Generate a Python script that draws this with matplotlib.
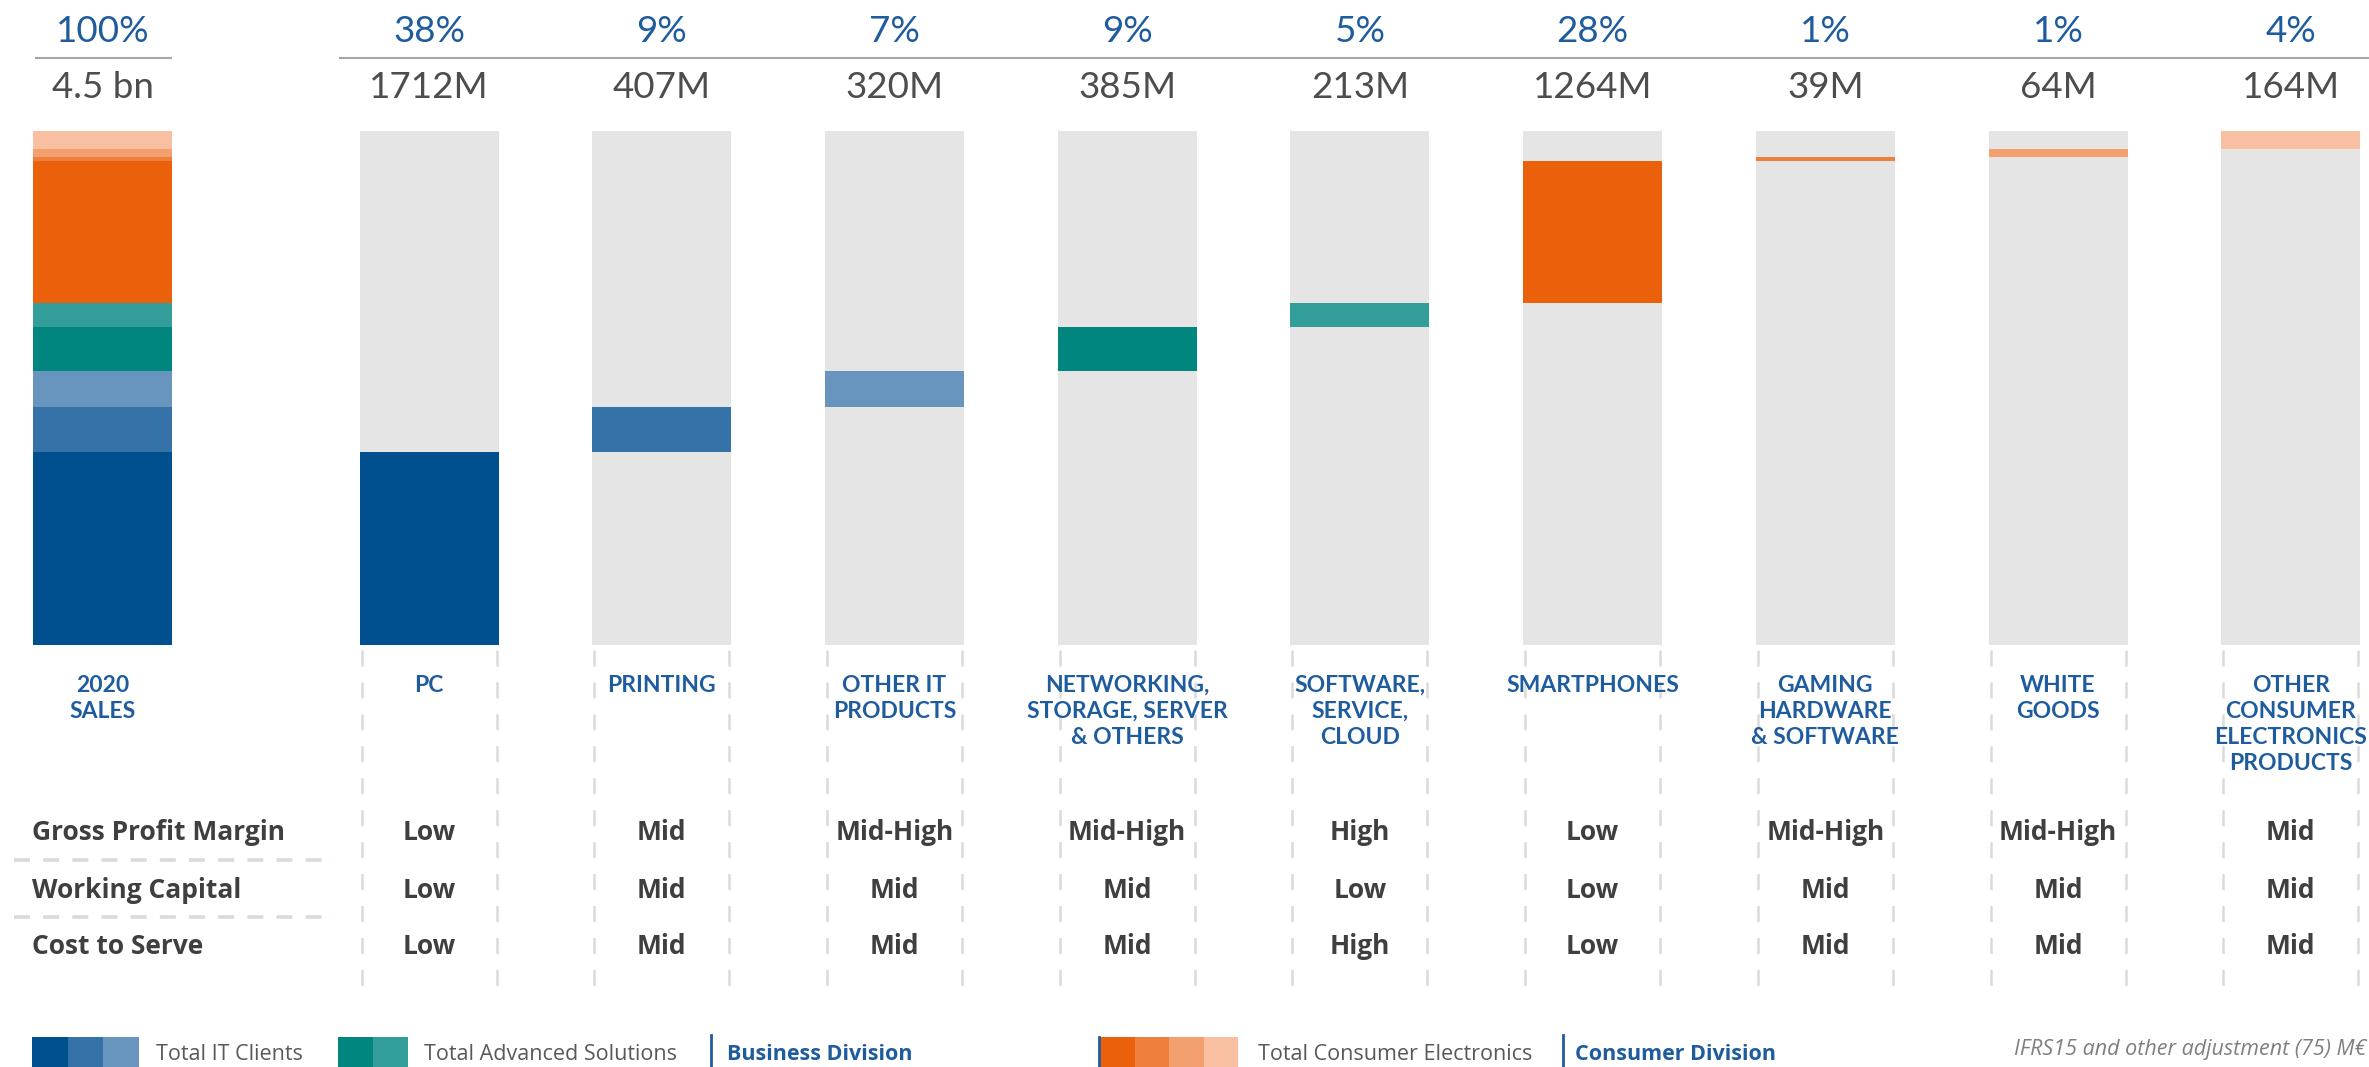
import matplotlib
matplotlib.use("Agg")
import matplotlib.pyplot as plt
import numpy as np

# ---------------- data ----------------
categories = ["PC", "PRINTING", "OTHER IT\nPRODUCTS", "NETWORKING,\nSTORAGE, SERVER\n& OTHERS",
              "SOFTWARE,\nSERVICE,\nCLOUD", "SMARTPHONES", "GAMING\nHARDWARE\n& SOFTWARE",
              "WHITE\nGOODS", "OTHER\nCONSUMER\nELECTRONICS\nPRODUCTS"]
sales_m = [1712, 407, 320, 385, 213, 1264, 39, 64, 164]
share_labels = ["38%", "9%", "7%", "9%", "5%", "28%", "1%", "1%", "4%"]
amount_labels = ["1712M", "407M", "320M", "385M", "213M", "1264M", "39M", "64M", "164M"]
total_category = "2020\nSALES"
total_share_label = "100%"
total_amount_label = "4.5 bn"

metric_names = ["Gross Profit Margin", "Working Capital", "Cost to Serve"]
gross_profit_margin = ["Low", "Mid", "Mid-High", "Mid-High", "High", "Low", "Mid-High", "Mid-High", "Mid"]
working_capital = ["Low", "Mid", "Mid", "Mid", "Low", "Low", "Mid", "Mid", "Mid"]
cost_to_serve = ["Low", "Mid", "Mid", "Mid", "High", "Low", "Mid", "Mid", "Mid"]

legend_it = "Total IT Clients"
legend_as = "Total Advanced Solutions"
legend_bd = "Business Division"
legend_ce = "Total Consumer Electronics"
legend_cd = "Consumer Division"
footnote = "IFRS15 and other adjustment (75) M€"

# ---------------- styles ----------------
seg_colors = ["#00508F", "#3572A8", "#6795BD", "#00857F", "#339E99",
              "#EB600A", "#EF7F3D", "#F3A06E", "#F8C0A0"]
bg_gray = "#E5E5E5"
blue_txt = "#1F5C9E"
gray_txt = "#4D4D4D"
dark_txt = "#3F3F3F"
line_gray = "#DADADA"

W, H = 2369, 1067
fig = plt.figure(figsize=(W / 100, H / 100), dpi=100)

# layout (pixels)
col_start, col_step, bar_px = 429.1, 232.7, 139.0
total_center_px = 103.0
bar_top_px, bar_bot_px = 131.0, 645.0

def px_of(p):
    return col_start + (p - 1) * col_step

positions = np.arange(1, len(sales_m) + 1)
total_pos = 1 + (total_center_px - col_start) / col_step
bw = bar_px / col_step

total = float(np.sum(sales_m))
bottoms = np.concatenate([[0], np.cumsum(sales_m)[:-1]])

ax = fig.add_axes([0, 1 - bar_bot_px / H, 1, (bar_bot_px - bar_top_px) / H])
ax.set_xlim(1 + (0 - col_start) / col_step, 1 + (W - col_start) / col_step)
ax.set_ylim(0, total)
ax.axis("off")

# gray backgrounds
ax.bar(positions, [total] * len(positions), width=bw, color=bg_gray, linewidth=0)
# segments in each column
ax.bar(positions, sales_m, bottom=bottoms, width=bw, color=seg_colors, linewidth=0)
# stacked total bar
ax.bar([total_pos] * len(sales_m), sales_m, bottom=bottoms, width=bw, color=seg_colors, linewidth=0)

# ---------------- overlay ----------------
ov = fig.add_axes([0, 0, 1, 1], facecolor="none")
ov.set_xlim(0, W)
ov.set_ylim(H, 0)
ov.axis("off")

head_font = "Lato"
body_font = "Open Sans"

# header
ov.text(total_center_px, 32, total_share_label, ha="center", va="center", fontsize=26.5,
        color=blue_txt, family=head_font)
ov.text(total_center_px, 87, total_amount_label, ha="center", va="center", fontsize=26.5,
        color=gray_txt, family=head_font)
for p, s, a in zip(positions, share_labels, amount_labels):
    ov.text(px_of(p), 32, s, ha="center", va="center", fontsize=26.5, color=blue_txt, family=head_font)
    ov.text(px_of(p), 87, a, ha="center", va="center", fontsize=26.5, color=gray_txt, family=head_font)
ov.plot([35, 172], [58, 58], color="#A6A6A6", lw=1.5, solid_capstyle="butt")
ov.plot([339, W], [58, 58], color="#A6A6A6", lw=1.5, solid_capstyle="butt")

# category labels
cat_fs = 16.5
ov.text(total_center_px, 675, total_category, ha="center", va="top", fontsize=cat_fs,
        color=blue_txt, family=head_font, fontweight="bold", linespacing=1.3)
for p, c in zip(positions, categories):
    ov.text(px_of(p), 675, c, ha="center", va="top", fontsize=cat_fs, color=blue_txt,
            family=head_font, fontweight="bold", linespacing=1.3)

# dashed vertical guides
lw_v = 1.8
for p in positions:
    for dx in (-bar_px / 2 + 2, bar_px / 2 - 2):
        ov.plot([px_of(p) + dx] * 2, [650, 1000], color=line_gray, lw=lw_v,
                linestyle=(0, (11.5 / lw_v, 11.5 / lw_v)), solid_capstyle="butt")

# metrics table
row_y = [832, 890, 947]
for y, name, vals in zip(row_y, metric_names, [gross_profit_margin, working_capital, cost_to_serve]):
    ov.text(32, y, name, ha="left", va="center", fontsize=19, color=dark_txt,
            family=body_font, fontweight="bold")
    for p, v in zip(positions, vals):
        ov.text(px_of(p), y, v, ha="center", va="center", fontsize=19, color=dark_txt,
                family=body_font, fontweight="bold")
lw_h = 2.6
for y in (860, 917):
    ov.plot([14, 335], [y, y], color=line_gray, lw=lw_h,
            linestyle=(0, (11.5 / lw_h, 9.5 / lw_h)), solid_capstyle="butt")

# legend
def swatches(x0, w, colors):
    for i, c in enumerate(colors):
        ov.fill_between([x0 + i * w, x0 + (i + 1) * w], 1037, 1070, color=c, linewidth=0)

leg_y = 1054
leg_fs = 15.5
swatches(32, 35.5, seg_colors[0:3])
ov.text(156, leg_y, legend_it, ha="left", va="center", fontsize=leg_fs, color="#595959", family=body_font)
swatches(338, 35, seg_colors[3:5])
ov.text(424, leg_y, legend_as, ha="left", va="center", fontsize=leg_fs, color="#595959", family=body_font)
ov.plot([711, 711], [1035, 1070], color=blue_txt, lw=2)
ov.text(727, leg_y, legend_bd, ha="left", va="center", fontsize=leg_fs, color=blue_txt,
        family=body_font, fontweight="bold")

swatches(1100, 34.6, seg_colors[5:9])
ov.plot([1099, 1099], [1037, 1070], color=blue_txt, lw=2)
ov.text(1258, leg_y, legend_ce, ha="left", va="center", fontsize=leg_fs, color="#595959", family=body_font)
ov.plot([1563, 1563], [1035, 1070], color=blue_txt, lw=2)
ov.text(1575, leg_y, legend_cd, ha="left", va="center", fontsize=leg_fs, color=blue_txt,
        family=body_font, fontweight="bold")
ov.text(2366, 1050, footnote, ha="right", va="center", fontsize=leg_fs, color="#7F7F7F",
        family=body_font, style="italic")

fig.savefig("out.png", dpi=100)
